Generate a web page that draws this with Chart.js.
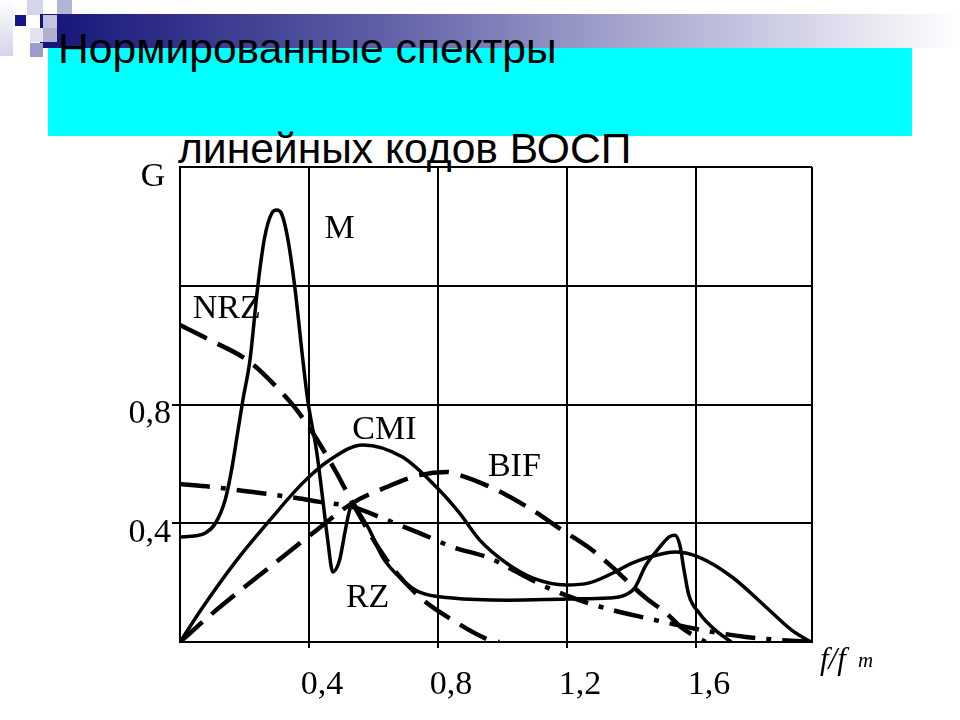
<!DOCTYPE html>
<html>
<head>
<meta charset="utf-8">
<script src="https://cdn.jsdelivr.net/npm/chart.js@4.4.1/dist/chart.umd.min.js"></script>
<style>
  html, body { margin: 0; padding: 0; background: #fff; }
  #page { position: relative; width: 960px; height: 720px; overflow: hidden; }
  .sq { position: absolute; }
  #banner { position: absolute; left: 40px; top: 14px; width: 920px; height: 34px;
            background: linear-gradient(to right, #141478 0%, #5a5aa4 35%, #a8a8d0 65%, #ffffff 100%); }
  #cyan { position: absolute; left: 48px; top: 48px; width: 864px; height: 88px; background: #00ffff; }
  .ttl { position: absolute; font-family: "Liberation Sans", Arial, sans-serif; font-size: 42.6px;
         line-height: 42px; color: #000; white-space: nowrap; }
  #t1 { left: 58px; top: 27px; }
  #t2 { left: 178px; top: 127px; }
  #grafico { position: absolute; left: 0; top: 0; }
</style>
</head>
<body>
<div id="page">
  <div class="sq" style="left:0;top:0;width:13px;height:56px;background:linear-gradient(#ffffff,#d4d4e8);"></div>
  <div class="sq" style="left:27px;top:0;width:16px;height:15px;background:#d4d4ea;"></div>
  <div class="sq" style="left:57px;top:0;width:15px;height:14px;background:#b4b4d8;"></div>
  <div id="banner"></div>
  <div class="sq" style="left:15px;top:15px;width:11px;height:11px;background:#16168a;"></div>
  <div class="sq" style="left:43px;top:15px;width:14px;height:13px;background:#c4c4e2;"></div>
  <div class="sq" style="left:30px;top:28px;width:13px;height:14px;background:#e2e2f0;"></div>
  <div class="sq" style="left:43px;top:28px;width:14px;height:14px;background:#b0b0cc;"></div>
  <div class="sq" style="left:30px;top:43px;width:13px;height:14px;background:#9c9cc8;"></div>
  <div id="cyan"></div>
  <div class="ttl" id="t1">Нормированные спектры</div>
  <div class="ttl" id="t2">линейных кодов ВОСП</div>
  <canvas id="grafico" width="960" height="720"></canvas>
</div>
<script>
// Datos (x = f/fm, y = G)
const mX = [0, 0.05, 0.08, 0.11, 0.14, 0.16, 0.18, 0.195, 0.217, 0.241, 0.262, 0.285, 0.300, 0.316, 0.334, 0.356, 0.381, 0.396, 0.424, 0.443, 0.458, 0.474, 0.495, 0.511, 0.525, 0.535, 0.560, 0.588, 0.628, 0.690, 0.743, 0.845, 1.02, 1.21, 1.33, 1.38, 1.41, 1.445, 1.486, 1.517, 1.535, 1.55, 1.563, 1.578, 1.61, 1.66, 1.71];
const mY = [0.354, 0.358, 0.368, 0.40, 0.478, 0.58, 0.714, 0.815, 0.95, 1.196, 1.36, 1.445, 1.455, 1.44, 1.36, 1.196, 0.95, 0.815, 0.64, 0.478, 0.344, 0.236, 0.276, 0.367, 0.44, 0.468, 0.428, 0.377, 0.286, 0.209, 0.168, 0.148, 0.141, 0.145, 0.148, 0.158, 0.182, 0.259, 0.317, 0.354, 0.36, 0.327, 0.243, 0.158, 0.098, 0.04, 0];

const cmiX = [0, 0.071, 0.176, 0.279, 0.381, 0.464, 0.567, 0.690, 0.795, 0.867, 0.929, 1.012, 1.093, 1.198, 1.269, 1.362, 1.402, 1.507, 1.538, 1.609, 1.712, 1.817, 1.897, 1.956];
const cmiY = [0, 0.118, 0.276, 0.411, 0.536, 0.613, 0.664, 0.623, 0.522, 0.434, 0.344, 0.266, 0.216, 0.192, 0.199, 0.243, 0.266, 0.300, 0.303, 0.286, 0.219, 0.118, 0.04, 0];

const nrzX = [0, 0.093, 0.217, 0.331, 0.362, 0.412, 0.486, 0.535, 0.641, 0.743, 0.845, 0.959, 0.99];
const nrzY = [1.068, 1.017, 0.943, 0.822, 0.782, 0.704, 0.569, 0.468, 0.276, 0.152, 0.074, 0.007, 0];

const bifX = [0, 0.102, 0.279, 0.412, 0.535, 0.641, 0.743, 0.826, 0.867, 0.969, 1.083, 1.185, 1.278, 1.340, 1.383, 1.445, 1.507, 1.557, 1.609, 1.63];
const bifY = [0, 0.098, 0.253, 0.367, 0.468, 0.522, 0.562, 0.573, 0.562, 0.519, 0.451, 0.377, 0.310, 0.253, 0.209, 0.148, 0.098, 0.047, 0.013, 0];

const rzX = [0, 0.102, 0.226, 0.362, 0.433, 0.535, 0.641, 0.743, 0.845, 0.959, 1.031, 1.136, 1.238, 1.340, 1.445, 1.569, 1.650, 1.755, 1.857, 1.956];
const rzY = [0.532, 0.522, 0.505, 0.485, 0.472, 0.455, 0.411, 0.367, 0.320, 0.283, 0.243, 0.185, 0.141, 0.108, 0.081, 0.051, 0.034, 0.017, 0.007, 0];

const xTicks = [0, 0.4, 0.8, 1.2, 1.6, 1.96];
const xTickLabels = ['', '0,4', '0,8', '1,2', '1,6', ''];
const yTicks = [0, 0.4, 0.8, 1.2, 1.6];
const yTickLabels = ['', '0,4', '0,8', '', ''];

// nombres de las curvas y donde van (en unidades del grafico)
const curveNames = ['M', 'NRZ', 'CMI', 'BIF', 'RZ'];
const nameX = [0.495, 0.145, 0.634, 1.037, 0.582];
const nameY = [1.391, 1.122, 0.714, 0.589, 0.148];

const serif = '"Liberation Serif", "Times New Roman", serif';

function puntos(xs, ys) {
    return xs.map((x, i) => ({ x: x, y: ys[i] }));
}

function curva(xs, ys, dash, ancho) {
    return {
        data: puntos(xs, ys),
        borderColor: '#000',
        borderWidth: ancho,
        borderDash: dash,
        pointRadius: 0,
        fill: false,
        cubicInterpolationMode: 'monotone'
    };
}

const etiquetas = {
    id: 'etiquetas',
    afterDraw(chart) {
        const ctx = chart.ctx;
        const sx = chart.scales.x, sy = chart.scales.y;
        const a = chart.chartArea;
        ctx.save();
        ctx.fillStyle = '#000';
        ctx.textAlign = 'center';
        ctx.textBaseline = 'middle';
        ctx.font = '34px ' + serif;
        curveNames.forEach((n, i) => {
            ctx.fillText(n, sx.getPixelForValue(nameX[i]), sy.getPixelForValue(nameY[i]));
        });
        ctx.fillText('G', a.left - 27, a.top + 10);
        ctx.textAlign = 'left';
        ctx.font = 'italic 31px ' + serif;
        ctx.fillText('f/f', a.right + 8, a.bottom + 19);
        ctx.font = 'italic 21px ' + serif;
        ctx.fillText('m', a.right + 46, a.bottom + 19);
        ctx.restore();
    }
};

const graph = document.querySelector('#grafico');

const data = {
    datasets: [
        curva(mX, mY, [], 3.5),
        curva(cmiX, cmiY, [], 3.5),
        curva(nrzX, nrzY, [30, 12], 4.5),
        curva(bifX, bifY, [30, 12], 4.5),
        curva(rzX, rzY, [30, 11, 5, 11], 4.5)
    ]
};

const config = {
    type: 'line',
    data: data,
    options: {
        responsive: false,
        animation: false,
        layout: { padding: { top: 167, right: 148, left: 0, bottom: 0 } },
        plugins: { legend: { display: false }, tooltip: { enabled: false }, title: { display: false } },
        scales: {
            x: {
                type: 'linear',
                min: 0,
                max: 1.96,
                afterFit: s => { s.height = 78; },
                afterBuildTicks: s => { s.ticks = xTicks.map(v => ({ value: v })); },
                ticks: {
                    autoSkip: false, maxRotation: 0, minRotation: 0,
                    padding: 17, labelOffset: 13,
                    color: '#000', font: { family: serif, size: 34 },
                    callback: (v, i) => xTickLabels[i]
                },
                grid: {
                    color: '#000', lineWidth: 2, tickLength: 6,
                    tickColor: c => (c.tick && xTickLabels[c.index] ? '#000' : 'rgba(0,0,0,0)')
                },
                border: { color: '#000', width: 2 }
            },
            y: {
                type: 'linear',
                min: 0,
                max: 1.6,
                afterFit: s => { s.width = 180; },
                afterBuildTicks: s => { s.ticks = yTicks.map(v => ({ value: v })); },
                ticks: {
                    autoSkip: false, padding: 1, labelOffset: 10,
                    color: '#000', font: { family: serif, size: 34 },
                    callback: (v, i) => yTickLabels[i]
                },
                grid: {
                    color: '#000', lineWidth: 2, tickLength: 8,
                    tickColor: c => (c.tick && yTickLabels[c.index] ? '#000' : 'rgba(0,0,0,0)')
                },
                border: { color: '#000', width: 2 }
            }
        }
    },
    plugins: [etiquetas]
};

new Chart(graph, config);
</script>
</body>
</html>
